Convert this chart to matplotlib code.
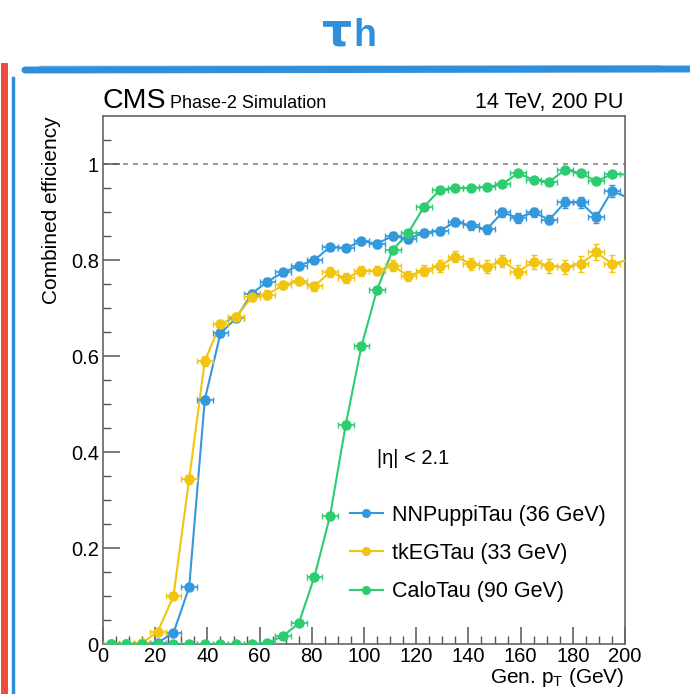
import numpy as np
import matplotlib
matplotlib.use("Agg")
import matplotlib.pyplot as plt
from matplotlib.lines import Line2D

plt.rcParams['font.family'] = ['Liberation Sans', 'DejaVu Sans']

# generator-level pT bin centres (GeV), last one lies just past the axis
pt = [3, 9, 15, 21, 27, 33, 39, 45, 51, 57, 63, 69, 75, 81, 87, 93, 99,
      105, 111, 117, 123, 129, 135, 141, 147, 153, 159, 165, 171, 177,
      183, 189, 195, 201]
pt_err = [3] * len(pt)

nnpuppi = [0, 0, 0, 0.003, 0.023, 0.118, 0.509, 0.647, 0.679, 0.730, 0.755,
           0.774, 0.788, 0.800, 0.827, 0.825, 0.839, 0.834, 0.850, 0.844,
           0.857, 0.861, 0.879, 0.872, 0.864, 0.899, 0.888, 0.899, 0.884,
           0.920, 0.920, 0.889, 0.944, 0.930]
nnpuppi_err = [0.001, 0.001, 0.001, 0.002, 0.004, 0.006, 0.008, 0.007, 0.007,
               0.007, 0.007, 0.007, 0.007, 0.007, 0.007, 0.007, 0.007, 0.008,
               0.008, 0.008, 0.008, 0.008, 0.009, 0.009, 0.009, 0.010, 0.010,
               0.010, 0.010, 0.011, 0.011, 0.012, 0.012, 0.012]

tkeg = [0, 0, 0.002, 0.026, 0.100, 0.343, 0.590, 0.667, 0.681, 0.723, 0.728,
        0.748, 0.756, 0.745, 0.775, 0.762, 0.777, 0.778, 0.788, 0.767, 0.778,
        0.788, 0.807, 0.792, 0.786, 0.798, 0.776, 0.796, 0.788, 0.785,
        0.792, 0.816, 0.792, 0.800]
tkeg_err = [0.001, 0.001, 0.002, 0.004, 0.007, 0.010, 0.010, 0.009, 0.009,
            0.009, 0.009, 0.009, 0.009, 0.009, 0.010, 0.010, 0.010, 0.010,
            0.011, 0.011, 0.011, 0.012, 0.012, 0.012, 0.013, 0.013, 0.014,
            0.014, 0.015, 0.015, 0.016, 0.017, 0.018, 0.018]

calo = [0, 0, 0, 0, 0, 0, 0, 0, 0, 0, 0.002, 0.017, 0.043, 0.140, 0.267,
        0.457, 0.620, 0.738, 0.821, 0.857, 0.911, 0.946, 0.950, 0.950, 0.952,
        0.958, 0.981, 0.967, 0.963, 0.988, 0.981, 0.964, 0.979, 0.978]
calo_err = [0.001] * 10 + [0.001, 0.002, 0.003, 0.005, 0.006, 0.007, 0.007,
                           0.006, 0.005, 0.005, 0.004, 0.004, 0.004, 0.004,
                           0.004, 0.004, 0.004, 0.004, 0.004, 0.004, 0.004,
                           0.005, 0.005, 0.005]

series = [
    ("NNPuppiTau (36 GeV)", nnpuppi, nnpuppi_err, "#3498db"),
    ("tkEGTau (33 GeV)", tkeg, tkeg_err, "#f1c40f"),
    ("CaloTau (90 GeV)", calo, calo_err, "#2ecc71"),
]

fig = plt.figure(figsize=(6.9, 6.94), dpi=100)
ax = fig.add_axes([103 / 690, 1 - 644 / 694, 522 / 690, 528 / 694])

ax.axhline(1.0, color="#888888", lw=1.2, ls=(0, (3, 3)), zorder=1)

for name, vals, errs, col in series:
    ax.plot(pt, vals, color=col, lw=1.5, zorder=3)
    ax.errorbar(pt[:-1], vals[:-1], xerr=pt_err[:-1], yerr=errs[:-1],
                fmt="o", color=col, ms=6.5, elinewidth=1.2, capsize=2,
                capthick=1.0, zorder=4)

ax.set_xlim(0, 200)
ax.set_ylim(0, 1.1)
ax.set_xticks(np.arange(0, 201, 20))
ax.set_xticks(np.arange(0, 201, 5), minor=True)
ax.set_yticks([0, 0.2, 0.4, 0.6, 0.8, 1.0])
ax.set_yticklabels(["0", "0.2", "0.4", "0.6", "0.8", "1"])
ax.set_yticks(np.arange(0, 1.1, 0.05), minor=True)
ax.tick_params(which="both", direction="in", colors="#555555",
               labelcolor="black", labelsize=14.5)
ax.tick_params(which="major", length=12, width=1.1)
ax.tick_params(which="minor", length=6, width=1.0)
ax.tick_params(axis="x", pad=2)
ax.tick_params(axis="y", pad=3)
for s in ax.spines.values():
    s.set_color("#666666")
    s.set_linewidth(1.2)

ax.set_xlabel("Gen. p$_{\\mathregular{T}}$ (GeV)", fontsize=15, loc="right",
              labelpad=0)
ax.set_ylabel("Combined efficiency", fontsize=15, loc="top", labelpad=7)

# CMS header
fig.text(102 / 690, 1 - 108 / 694, "CMS", fontsize=20.5, va="baseline",
         ha="left")
fig.text(170 / 690, 1 - 108 / 694, "Phase-2 Simulation", fontsize=13,
         va="baseline", ha="left")
fig.text(623 / 690, 1 - 108 / 694, "14 TeV, 200 PU", fontsize=15.5,
         va="baseline", ha="right")

ax.text(0.525, 0.352, "|η| < 2.1", transform=ax.transAxes, fontsize=14.5,
        va="center", ha="left")

handles = [Line2D([], [], color=c, marker="o", ms=5.5, lw=1.5)
           for _, _, _, c in series]
ax.legend(handles, [s[0] for s in series], loc="upper left",
          bbox_to_anchor=(0.456, 0.280), frameon=False, fontsize=15.5,
          handlelength=1.55, handletextpad=0.42, labelspacing=0.8,
          borderaxespad=0)

# decorative slide frame around the plot
blue = "#2f8fdb"
fig.add_artist(Line2D([25 / 690, 690 / 690], [1 - 70 / 694, 1 - 69 / 694],
                      color=blue, lw=5, solid_capstyle="round"))
fig.add_artist(Line2D([40 / 690, 660 / 690], [1 - 66.5 / 694, 1 - 66 / 694],
                      color=blue, lw=1.2, alpha=0.5))
fig.add_artist(Line2D([4 / 690, 4 / 690], [1 - 66 / 694, 0],
                      color="#e74c3c", lw=5))
fig.add_artist(Line2D([13 / 690, 13 / 690], [1 - 78 / 694, 0],
                      color=blue, lw=2.5))

fig.text(337 / 690, 1 - 46 / 694, "τ", fontsize=34, fontweight="bold",
         color=blue, ha="center", va="baseline", family="DejaVu Sans")
fig.text(365 / 690, 1 - 46 / 694, "h", fontsize=27, fontweight="bold",
         color=blue, ha="center", va="baseline")

fig.savefig("out.png", dpi=100)
